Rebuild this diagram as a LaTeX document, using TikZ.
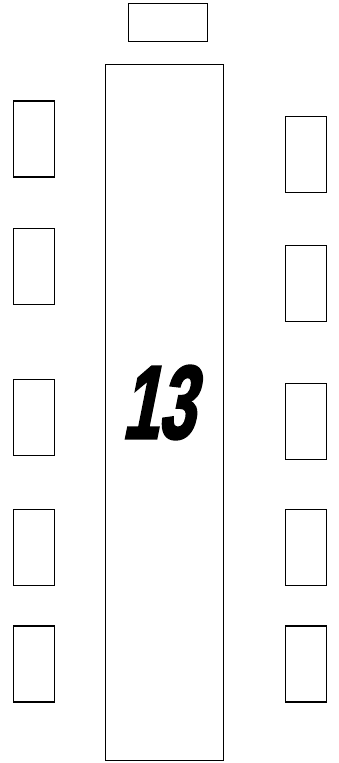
\documentclass[tikz,border=0pt]{standalone}
\usepackage{fontspec}
\newfontfamily\numfont[FakeStretch=0.62,FakeSlant=0.2,FakeBold=2.5]{Liberation Sans Bold}
\begin{document}
\begin{tikzpicture}[x=1pt,y=-1pt,
  box/.style={draw=black,line width=1.4pt,inner sep=0pt,outer sep=0pt,fill=white},
  seat/.style={box,minimum width=41pt,minimum height=76pt}]
\useasboundingbox[fill=white] (0,0) rectangle (339,763);
\node[box,minimum width=79pt,minimum height=38pt] (head) at (168,22.4) {};
\node[box,minimum width=118pt,minimum height=696pt] (table) at (164.4,412.4) {};
\node[font=\numfont\fontsize{104}{104}\selectfont,inner sep=0pt] (num) at (158,402.5) {13};
\node[seat] (l1) at (34,139) {};
\node[seat] (l2) at (34,266.5) {};
\node[seat] (l3) at (34,417.7) {};
\node[seat] (l4) at (34,547.7) {};
\node[seat] (l5) at (34,664) {};
\node[seat] (r1) at (306,154.5) {};
\node[seat] (r2) at (306,283.3) {};
\node[seat] (r3) at (306,421.3) {};
\node[seat] (r4) at (306,547.7) {};
\node[seat] (r5) at (306,664) {};
\end{tikzpicture}
\end{document}
